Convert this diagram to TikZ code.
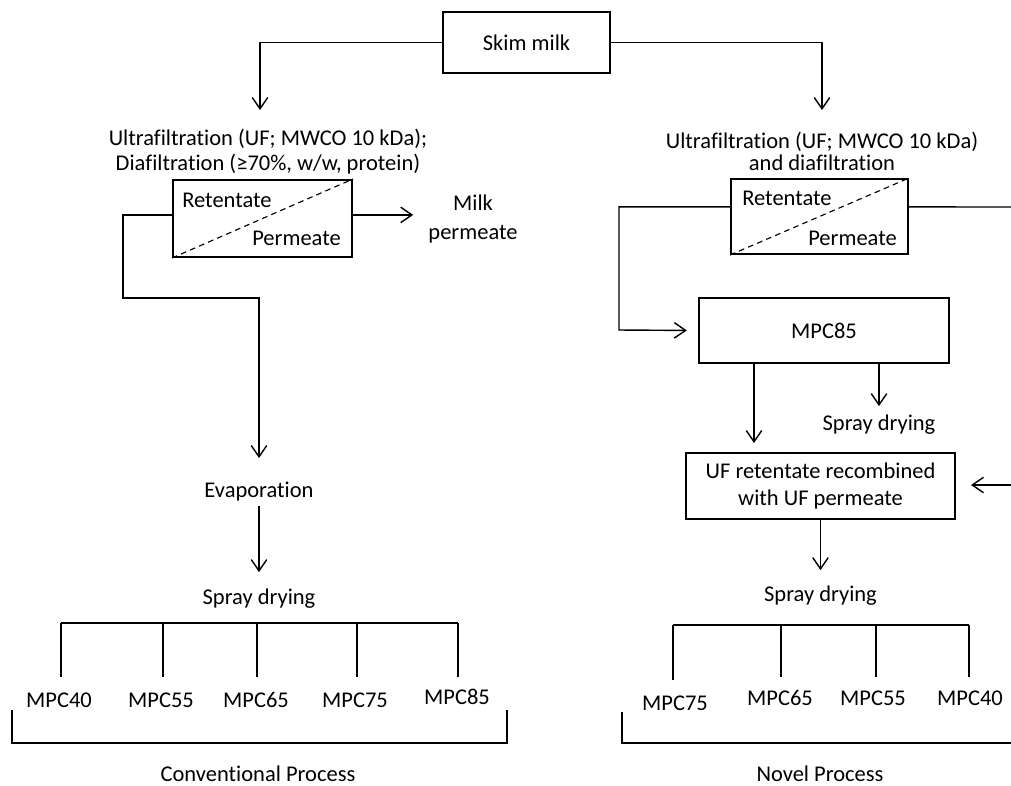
\documentclass[tikz,border=0pt]{standalone}
\usepackage{fontspec}
\setmainfont{Carlito}[Ligatures={NoCommon}]
\usepackage{tikz}
\usetikzlibrary{arrows.meta}

\begin{document}
\begin{tikzpicture}[
    x=0.025cm, y=-0.025cm,
    font=\fontsize{16}{21.3}\selectfont,
    proc/.style={rectangle, draw, line width=1.4pt, align=center, inner sep=0pt},
    lbl/.style={align=center, inner sep=0pt},
    flow/.style={line width=1pt, -{Straight Barb[length=8pt,width=11pt]}},
    link/.style={line width=1pt},
    split/.style={line width=0.8pt, dash pattern=on 4pt off 3pt},
]
    \useasboundingbox (0,0) rectangle (1011,785);

    % Skim milk
    \node[proc, minimum width=4.175cm, minimum height=1.525cm] (skim) at (526.5,42.5) {Skim milk};
    \coordinate (inL) at (260,110);
    \coordinate (inR) at (822,110);
    \draw[flow] (skim.west) -| (inL);
    \draw[flow] (skim.east) -| (inR);

    % Conventional column
    \node[lbl, font=\fontsize{16}{17.7}\selectfont] (ufL-txt) at (268,151.5) {Ultrafiltration (UF; MWCO 10 kDa);\\Diafiltration (≥70\%, w/w, protein)};
    \node[proc, minimum width=4.475cm, minimum height=1.925cm] (ufL) at (262.5,218.5) {};
    \draw[split] (ufL.south west) -- (ufL.north east);
    \node[lbl, anchor=base west] (ufL-ret) at (182,207) {Retentate};
    \node[lbl, anchor=base east] (ufL-per) at (341,245) {Permeate};
    \node[lbl] (milkperm) at (473,219) {Milk\\permeate};
    \node[lbl, anchor=base] (evap) at (259,497) {Evaporation};
    \node[lbl, anchor=base] (sdL) at (259,604) {Spray drying};
    \foreach \name/\x/\y in {40/59/707, 55/161/707, 65/256/707, 75/355/707, 85/457/704}
        \node[lbl, anchor=base] (mpcL\name) at (\x,\y) {MPC\name};
    \node[lbl, anchor=base] (convtxt) at (258,781) {Conventional Process};

    \coordinate (retL) at (123,298);
    \draw[flow, shorten >=0.375cm] ([yshift=.09cm]ufL.east) -- ([yshift=.09cm]ufL.east -| milkperm.west);
    \draw[flow, shorten >=0.58cm] ([yshift=.09cm]ufL.west) -| (retL) -| (evap.north);
    \draw[flow, shorten <=0.13cm, shorten >=0.4cm] (evap.south) -- (sdL.north);

    % left bracket
    \draw[link] (61,623) -- (458,623);
    \foreach \x in {61,163,257,357,458}
        \draw[link] (\x,623) -- (\x,677);
    \draw[link] (12,710) |- (507,743) -- (507,710);

    % Novel column
    \node[lbl, font=\fontsize{16}{15.5}\selectfont] (ufR-txt) at (822,151) {Ultrafiltration (UF; MWCO 10 kDa)\\and diafiltration};
    \node[proc, minimum width=4.425cm, minimum height=1.875cm] (ufR) at (819.5,216.5) {};
    \draw[split] (ufR.south west) -- (ufR.north east);
    \node[lbl, anchor=base west] (ufR-ret) at (742,205) {Retentate};
    \node[lbl, anchor=base east] (ufR-per) at (897,245) {Permeate};
    \node[proc, minimum width=6.25cm, minimum height=1.625cm] (mpc85) at (824,330.5) {MPC85};
    \node[lbl, anchor=base] (sdR1) at (879,430) {Spray drying};
    \node[proc, minimum width=6.725cm, minimum height=1.65cm, font=\fontsize{16}{19}\selectfont] (recomb) at (820.5,486) {UF retentate recombined\\with UF permeate};
    \node[lbl, anchor=base] (sdR2) at (820.5,601) {Spray drying};
    \foreach \name/\x/\y in {75/675/710, 65/780/705, 55/873/705, 40/970/705}
        \node[lbl, anchor=base] (mpcR\name) at (\x,\y) {MPC\name};
    \node[lbl, anchor=base] (noveltxt) at (820,781) {Novel Process};

    \coordinate (retR) at (619,330);
    \coordinate (edgeR1) at (1011,207);
    \coordinate (edgeR2) at (1011,485);
    \coordinate (recIn) at (754,443);
    \draw[flow, shorten >=0.28cm] ([yshift=.24cm]ufR.west) -| (retR) -- (mpc85.west);
    \draw[link] ([yshift=.24cm]ufR.east) -- (edgeR1);
    \draw[flow] (recIn |- mpc85.south) -- (recIn);
    \draw[flow, shorten >=0.2cm] (mpc85.south -| sdR1) -- (sdR1.north);
    \draw[flow, shorten >=0.375cm] (edgeR2) -- (edgeR2 -| recomb.east);
    \draw[flow, shorten >=0.375cm] (recomb.south) -- (sdR2.north);

    % right bracket
    \draw[link] (673,625) -- (969,625);
    \foreach \x/\y in {673/680, 781/677, 876/677, 969/677}
        \draw[link] (\x,625) -- (\x,\y);
    \draw[link] (622,712) |- (1011,743);

\end{tikzpicture}
\end{document}
